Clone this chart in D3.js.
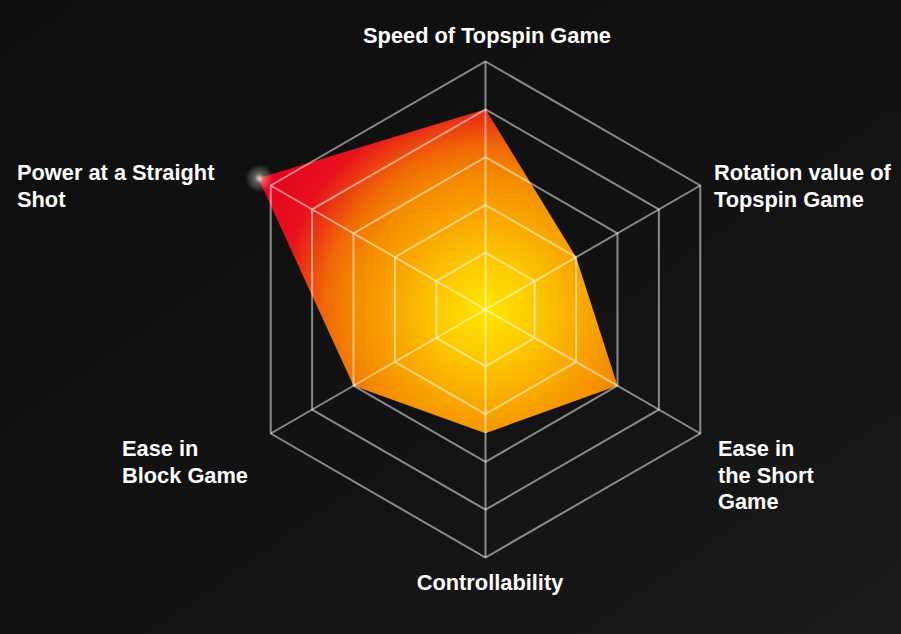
<!DOCTYPE html>
<html>
<head>
<meta charset="utf-8">
<script src="https://cdn.jsdelivr.net/npm/d3@7"></script>
<style>
html,body{margin:0;padding:0;background:#111;}
svg{display:block;}
</style>
</head>
<body>
<svg id="chart" width="901" height="634"></svg>
<script>
// ---- data ----
const axes = ["Speed of Topspin Game", "Rotation value of Topspin Game", "Ease in the Short Game", "Controllability", "Ease in Block Game", "Power at a Straight Shot"];
const values = [4.0, 2.0, 3.0, 2.4, 3.0, 5.3];
const ringLevels = [1, 2, 3, 4, 5];
const labelLines = [
  ["Speed of Topspin Game"],
  ["Rotation value of", "Topspin Game"],
  ["Ease in", "the Short", "Game"],
  ["Controllability"],
  ["Ease in", "Block Game"],
  ["Power at a Straight", "Shot"]
];

const W = 901, H = 634;
const cx = 485.5, cy = 309.5;
const svg = d3.select("#chart");
const defs = svg.append("defs");

// background
const bg = defs.append("linearGradient").attr("id", "bg").attr("x1", 0).attr("y1", 0).attr("x2", 1).attr("y2", 1);
bg.append("stop").attr("offset", 0).attr("stop-color", "#0e0e0e");
bg.append("stop").attr("offset", 0.55).attr("stop-color", "#131212");
bg.append("stop").attr("offset", 1).attr("stop-color", "#1b1a1a");
svg.append("rect").attr("width", W).attr("height", H).attr("fill", "url(#bg)");

const r = d3.scaleLinear().domain([0, 5]).range([9, 248]);
const angle = d3.scalePoint().domain(d3.range(axes.length + 1)).range([0, 2 * Math.PI]);
const pt = (i, v) => {
  const a = angle(i % axes.length);
  return [cx + r(v) * Math.sin(a), cy - r(v) * Math.cos(a)];
};

// fill gradient
const fg = defs.append("radialGradient").attr("id", "fillGrad")
  .attr("gradientUnits", "userSpaceOnUse").attr("cx", cx + 10).attr("cy", cy + 6).attr("r", 270)
  .attr("fx", cx).attr("fy", cy);
[[0, "#ffe600"], [0.15, "#fdcf00"], [0.33, "#f9ab00"], [0.5, "#f48c00"], [0.62, "#f06806"], [0.71, "#ec3a12"], [0.79, "#e8121c"], [1, "#e4001e"]]
  .forEach(([o, c]) => fg.append("stop").attr("offset", o).attr("stop-color", c));

const line = d3.line().curve(d3.curveLinearClosed);
const g = svg.append("g");

// data polygon
g.append("path")
  .attr("d", line(values.map((v, i) => pt(i, v))))
  .attr("fill", "url(#fillGrad)");

// glow at the outlying vertex
const glow = defs.append("radialGradient").attr("id", "glow");
glow.append("stop").attr("offset", 0).attr("stop-color", "rgba(255,255,235,0.85)");
glow.append("stop").attr("offset", 0.35).attr("stop-color", "rgba(255,245,225,0.35)");
glow.append("stop").attr("offset", 1).attr("stop-color", "rgba(255,255,255,0)");
const maxI = d3.maxIndex(values);
const gp = pt(maxI, values[maxI]);
g.append("circle").attr("cx", gp[0] + 1).attr("cy", gp[1]).attr("r", 14).attr("fill", "url(#glow)");

// grid rings
g.selectAll(".ring").data(ringLevels).enter().append("path")
  .attr("class", "ring")
  .attr("d", lv => line(axes.map((_, i) => pt(i, lv))))
  .attr("fill", "none")
  .attr("stroke", "rgba(255,255,255,0.5)")
  .attr("stroke-width", 2);

// spokes
g.selectAll(".spoke").data(axes).enter().append("line")
  .attr("class", "spoke")
  .attr("x1", cx).attr("y1", cy)
  .attr("x2", (d, i) => pt(i, 5)[0])
  .attr("y2", (d, i) => pt(i, 5)[1])
  .attr("stroke", "rgba(255,255,255,0.5)")
  .attr("stroke-width", 2);

// labels
const labelPos = [
  {x: 487, y: 43, anchor: "middle"},
  {x: 714, y: 180, anchor: "start"},
  {x: 718, y: 456, anchor: "start"},
  {x: 490, y: 590, anchor: "middle"},
  {x: 122, y: 456, anchor: "start"},
  {x: 17, y: 180, anchor: "start"}
];
labelLines.forEach((lines, i) => {
  const p = labelPos[i];
  const t = svg.append("text")
    .attr("x", p.x).attr("y", p.y)
    .attr("text-anchor", p.anchor)
    .attr("fill", "#ffffff")
    .attr("font-family", "'Liberation Sans', Arial, sans-serif")
    .attr("font-weight", "bold")
    .attr("font-size", 21.8);
  lines.forEach((s, k) => {
    t.append("tspan").attr("x", p.x).attr("y", p.y + k * 26.7).text(s);
  });
});
</script>
</body>
</html>
